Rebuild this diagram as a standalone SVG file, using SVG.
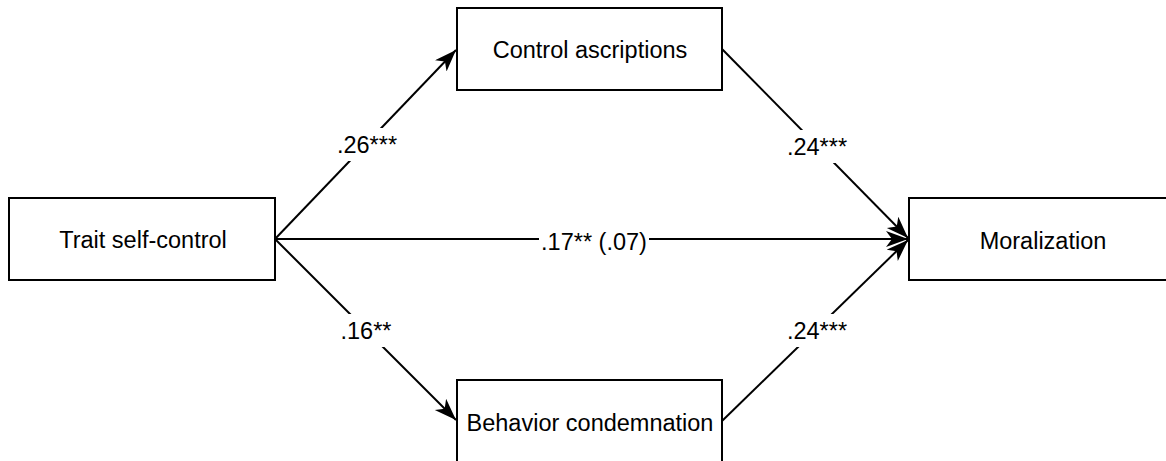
<svg xmlns="http://www.w3.org/2000/svg" width="1166" height="461" viewBox="0 0 1166 461">
<style>
.box{fill:#fff;stroke:#000;stroke-width:2}
.t{font-family:"Liberation Sans",Arial,sans-serif;font-size:23.5px;fill:#000;text-anchor:middle}
.edge{stroke:#000;stroke-width:2;fill:none;marker-end:url(#arr)}
.lbg{fill:#fff}
</style>
<defs>
<marker id="arr" markerUnits="userSpaceOnUse" markerWidth="24" markerHeight="18" refX="22" refY="8" orient="auto">
<path d="M0,0 L22,8 L0,16 L6,8 z" fill="#000"/>
</marker>
</defs>
<rect width="1166" height="461" fill="#fff"/>
<g id="connectors">
<line class="edge" x1="275" y1="239" x2="456" y2="50"/>
<line class="edge" x1="722" y1="49" x2="908" y2="238"/>
<line class="edge" x1="275" y1="239" x2="908" y2="239"/>
<line class="edge" x1="275" y1="239" x2="456" y2="420"/>
<line class="edge" x1="722" y1="421" x2="908" y2="240"/>
<rect class="lbg" x="336" y="128" width="63" height="33"/>
<text class="t" x="367" y="153">.26***</text>
<rect class="lbg" x="786" y="130" width="63" height="33"/>
<text class="t" x="817" y="155">.24***</text>
<rect class="lbg" x="539" y="226" width="110" height="30"/>
<text class="t" x="594" y="250">.17** (.07)</text>
<rect class="lbg" x="338" y="314" width="58" height="33"/>
<text class="t" x="366" y="339">.16**</text>
<rect class="lbg" x="786" y="314" width="63" height="33"/>
<text class="t" x="817" y="339">.24***</text>
</g>
<g id="node-trait">
<rect class="box" x="9" y="198" width="266" height="82"/>
<text class="t" x="143" y="248">Trait self-control</text>
</g>
<g id="node-control">
<rect class="box" x="457" y="8" width="265" height="82"/>
<text class="t" x="590" y="58">Control ascriptions</text>
</g>
<g id="node-behavior">
<rect class="box" x="457" y="380" width="265" height="82"/>
<text class="t" x="590" y="431">Behavior condemnation</text>
</g>
<g id="node-moralization">
<rect class="box" x="909" y="198" width="265" height="82"/>
<text class="t" x="1043" y="249">Moralization</text>
</g>
</svg>
